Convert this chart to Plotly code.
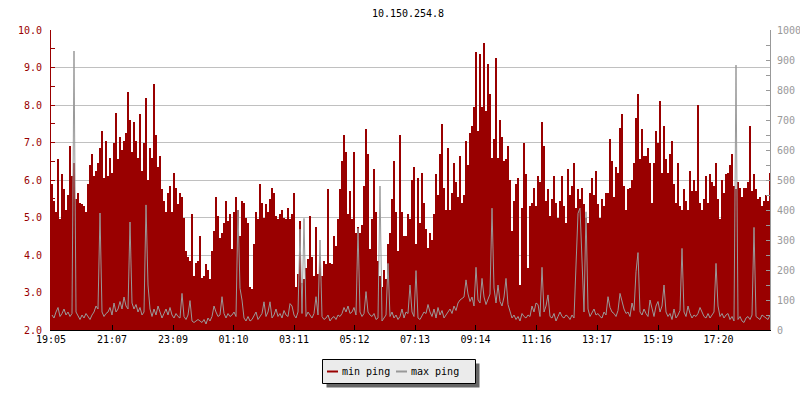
import plotly.graph_objects as go

title_text = "10.150.254.8"
start_label = "19:05"
step_minutes = 4
tick_labels = ["19:05", "21:07", "23:09", "01:10", "03:11", "05:12",
               "07:13", "09:14", "11:16", "13:17", "15:19", "17:20"]
series_names = ["min ping", "max ping"]

min_ping = [
    # 19:05 - 21:05
    5.9, 5.45, 5.15, 6.55, 4.95, 6.15, 5.75, 5.2, 5.6, 6.9,
    6.1, 6.45, 5.5, 5.65, 5.4, 5.35, 5.3, 5.15, 5.9, 6.4,
    6.7, 6.1, 6.25, 6.45, 6.85, 7.3, 6.05, 7.05, 6.1, 6.6,
    6.2, 7.0, 7.8, 6.55, 7.15, 6.8, 7.05, 7.25, 8.35, 7.6,
    6.75, 7.55, 7.05, 6.6, 7.75, 6.25, 7.0, 8.2, 6.0, 6.85,
    6.6, 8.55, 7.2, 6.35, 6.65, 5.75, 5.45, 5.15, 5.65, 5.85,
    # 23:05
    5.15, 6.2, 5.8, 5.35, 5.65, 5.55, 5.0, 4.1, 3.95, 3.85,
    5.1, 3.45, 3.8, 3.85, 4.5, 3.4, 3.45, 3.75, 3.6, 3.35,
    4.1, 4.65, 5.55, 5.05, 4.45, 4.6, 4.85, 5.45, 4.9, 5.1,
    4.15, 5.15, 5.55, 5.2, 4.5, 5.45, 5.4, 5.0, 4.85, 3.15,
    3.1, 4.3, 5.15, 4.95, 5.9, 5.4, 5.0, 5.35, 5.15, 5.5,
    5.8, 5.65, 5.05, 4.95, 5.1, 5.2, 5.0, 4.95, 5.25, 4.95,
    # 03:05
    5.1, 5.65, 3.15, 3.5, 4.9, 3.25, 3.35, 3.65, 3.9, 5.05,
    3.95, 3.45, 4.75, 3.5, 3.95, 3.45, 3.85, 3.75, 5.75, 3.8,
    3.75, 4.5, 4.25, 4.95, 5.75, 6.5, 7.2, 6.75, 5.1, 5.7,
    4.95, 6.75, 4.6, 4.75, 4.6, 4.8, 5.85, 7.35, 6.7, 4.15,
    4.95, 6.3, 5.15, 3.85, 3.45, 3.15, 3.6, 3.35, 4.3, 4.6,
    5.5, 6.5, 5.15, 4.1, 7.2, 5.15, 4.5, 4.5, 5.1, 4.95,
    # 07:05
    6.0, 6.35, 4.3, 6.05, 4.85, 6.2, 5.4, 4.7, 4.2, 4.6,
    4.4, 5.1, 6.15, 5.6, 6.7, 7.5, 5.8, 5.2, 6.85, 5.2,
    5.65, 6.45, 5.95, 5.55, 6.65, 5.4, 5.6, 7.05, 6.4, 7.25,
    7.45, 7.95, 9.42, 7.3, 9.35, 7.95, 9.65, 7.85, 9.1, 8.3,
    6.6, 7.1, 9.25, 6.6, 7.6, 7.15, 6.5, 6.55, 6.9, 6.0,
    4.65, 5.45, 5.9, 6.05, 3.2, 5.25, 6.98, 6.15, 3.65, 5.3,
    # 11:05
    5.4, 5.8, 5.3, 6.1, 5.95, 7.55, 6.9, 5.45, 5.75, 5.05,
    5.5, 6.1, 5.4, 5.0, 5.45, 6.1, 5.3, 4.85, 6.3, 5.6,
    5.85, 6.45, 5.25, 5.75, 5.5, 5.8, 5.35, 5.0, 4.85, 5.65,
    6.05, 5.6, 6.25, 5.35, 5.0, 5.5, 5.3, 5.65, 5.65, 7.1,
    6.5, 5.55, 6.35, 6.2, 7.4, 7.75, 5.85, 5.2, 5.75, 5.8,
    6.0, 6.45, 7.65, 8.3, 6.55, 7.35, 6.65, 6.65, 6.85, 6.45,
    # 15:05
    5.4, 6.45, 7.3, 7.0, 8.1, 6.2, 7.45, 6.55, 6.2, 6.7,
    7.05, 5.9, 5.4, 6.45, 5.3, 5.2, 5.75, 5.45, 5.2, 6.25,
    5.7, 6.0, 5.7, 8.0, 5.4, 5.2, 5.5, 6.1, 5.4, 6.15,
    5.95, 5.85, 6.45, 5.5, 4.95, 6.0, 5.65, 6.15, 6.2, 6.4,
    6.7, 5.85, 5.75, 5.95, 5.8, 5.55, 5.8, 5.8, 5.95, 7.45,
    5.7, 6.15, 5.75, 5.5, 5.55, 5.3, 5.45, 5.6, 5.45, 6.2,
]

max_ping = [
    50, 40, 60, 75, 45, 55, 70, 50, 60, 45,
    55, 930, 60, 45, 35, 50, 40, 55, 45, 35,
    50, 60, 80, 70, 390, 60, 45, 55, 60, 75,
    50, 90, 60, 70, 95, 70, 110, 80, 70, 360,
    90, 70, 85, 60, 75, 50, 60, 417, 150, 70,
    45, 70, 50, 80, 60, 40, 55, 70, 50, 75,
    50, 40, 55, 45, 40, 122, 45, 35, 50, 98,
    30, 25, 30, 35, 30, 25, 35, 20, 40, 30,
    45, 80, 60, 45, 50, 111, 55, 40, 55, 45,
    50, 60, 45, 400, 139, 100, 40, 30, 45, 30,
    35, 50, 60, 35, 45, 55, 94, 45, 60, 94,
    40, 50, 70, 45, 55, 40, 65, 50, 45, 88,
    80, 50, 40, 60, 336, 55, 372, 45, 60, 50,
    40, 55, 111, 50, 300, 45, 35, 40, 50, 30,
    40, 45, 35, 50, 45, 55, 75, 60, 80, 55,
    60, 75, 50, 339, 60, 45, 55, 128, 60, 50,
    45, 55, 35, 40, 480, 30, 40, 50, 222, 45,
    60, 40, 50, 35, 45, 70, 40, 60, 55, 150,
    60, 45, 198, 40, 35, 50, 60, 55, 85, 60,
    45, 70, 40, 75, 50, 65, 40, 50, 60, 70,
    55, 80, 65, 90, 100, 105, 110, 167, 120, 95,
    110, 80, 209, 100, 90, 172, 110, 85, 100, 120,
    406, 140, 90, 150, 95, 80, 110, 172, 85, 60,
    40, 50, 35, 45, 30, 55, 45, 40, 50, 45,
    80, 60, 90, 85, 45, 209, 60, 80, 117, 45,
    40, 55, 30, 45, 60, 45, 40, 50, 45, 35,
    50, 40, 233, 389, 406, 222, 60, 394, 70, 45,
    60, 70, 50, 55, 45, 40, 60, 50, 111, 75,
    60, 55, 45, 65, 122, 95, 70, 55, 60, 45,
    90, 65, 194, 258, 60, 50, 70, 55, 45, 100,
    70, 45, 80, 95, 60, 80, 150, 60, 45, 55,
    35, 70, 40, 50, 65, 272, 60, 45, 80, 55,
    40, 50, 45, 55, 75, 60, 45, 40, 55, 40,
    50, 60, 222, 80, 45, 55, 40, 50, 55, 35,
    45, 30, 883, 35, 45, 30, 25, 40, 45, 35,
    50, 342, 45, 40, 35, 50, 45, 40, 35, 50,
]


def to_min(s):
    h, m = map(int, s.split(":"))
    return h * 60 + m


t0 = to_min(start_label)
tick_vals = [(to_min(s) - t0) % 1440 for s in tick_labels]
x_vals = [i * step_minutes + step_minutes / 2 for i in range(len(min_ping))]

RED = "#990000"
GRAY = "#999999"
FONT = "DejaVu Sans Mono"

# plot-area geometry in pixels
W, H = 800, 400
ML, MR, MT, MB = 51, 30, 30, 70
PW, PH = W - ML - MR, H - MT - MB


def px(xp):
    return (xp - ML) / PW


def py(yp):
    return (H - MB - yp) / PH


fig = go.Figure()
fig.add_trace(go.Bar(
    x=x_vals, y=min_ping, name=series_names[0], width=step_minutes,
    marker=dict(color=RED, line=dict(width=0)), yaxis="y",
    showlegend=False,
))
fig.add_trace(go.Scatter(
    x=x_vals, y=max_ping, name=series_names[1], mode="lines",
    line=dict(color=GRAY, width=1), yaxis="y2", showlegend=False,
))

# hand-drawn legend box (with drop shadow), as in the original
bx0, bx1, by0, by1 = 322.5, 475.5, 359.5, 383.5
fig.add_shape(type="rect", xref="paper", yref="paper",
              x0=px(bx0 + 4), x1=px(bx1 + 4), y0=py(by0 + 4), y1=py(by1 + 4),
              fillcolor="#666666", line=dict(width=0), layer="above")
fig.add_shape(type="rect", xref="paper", yref="paper",
              x0=px(bx0), x1=px(bx1), y0=py(by0), y1=py(by1),
              fillcolor="#ebebeb", line=dict(color="black", width=1),
              layer="above")
ly = 371.5
for (sx0, tx), name, col in zip([(327, 340.5), (396, 409.5)],
                                series_names, [RED, GRAY]):
    fig.add_shape(type="line", xref="paper", yref="paper",
                  x0=px(sx0), x1=px(sx0 + 11), y0=py(ly), y1=py(ly),
                  line=dict(color=col, width=2), layer="above")
    fig.add_annotation(xref="paper", yref="paper", x=px(tx), y=py(ly),
                       xanchor="left", yanchor="middle", text=name,
                       showarrow=False, borderpad=0,
                       font=dict(family=FONT, size=10, color="black"))

fig.update_layout(
    width=W, height=H,
    margin=dict(l=ML, r=MR, t=MT, b=MB, autoexpand=False),
    paper_bgcolor="white", plot_bgcolor="white",
    font=dict(family=FONT, size=10, color="black"),
    title=dict(text=title_text, x=0.51, xanchor="center", y=1 - 13 / H,
               yanchor="middle", yref="container", xref="container",
               font=dict(family=FONT, size=10, color="black")),
    bargap=0,
    showlegend=False,
    hovermode=False,
    xaxis=dict(range=[0, 1438], tickvals=tick_vals, ticktext=tick_labels,
               ticks="inside", ticklen=5, tickcolor="black",
               showline=True, linecolor="black", linewidth=1,
               showgrid=False, zeroline=False, automargin=False,
               tickfont=dict(family=FONT, size=10, color="black")),
    yaxis=dict(range=[2, 10], dtick=1, tick0=2, tickformat=".1f",
               ticks="inside", ticklen=4, tickcolor=RED,
               showline=True, linecolor=RED, linewidth=1,
               showgrid=True, gridcolor="#c0c0c0", gridwidth=1,
               zeroline=False, ticklabelstandoff=6, automargin=False,
               minor=dict(dtick=0.5, ticks="inside", ticklen=4,
                          tickcolor=RED, showgrid=False),
               tickfont=dict(family=FONT, size=10, color=RED)),
    yaxis2=dict(range=[0, 1000], dtick=100, overlaying="y", side="right",
                ticks="inside", ticklen=4, tickcolor=GRAY,
                showline=True, linecolor=GRAY, linewidth=1,
                showgrid=False, zeroline=False, ticklabelstandoff=4,
                automargin=False,
                minor=dict(dtick=50, ticks="inside", ticklen=4,
                           tickcolor=GRAY, showgrid=False),
                tickfont=dict(family=FONT, size=10, color=GRAY)),
)

fig.write_html("out.html",
               config={"displayModeBar": False, "staticPlot": True},
               post_script="document.body.style.margin='0';")
